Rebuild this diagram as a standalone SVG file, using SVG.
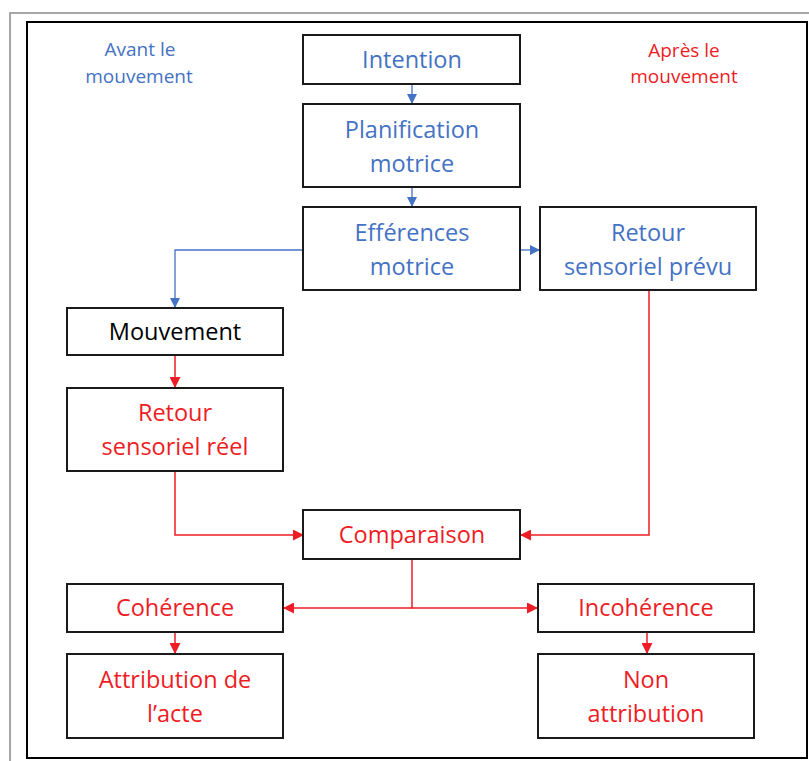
<svg xmlns="http://www.w3.org/2000/svg" width="809" height="761" viewBox="0 0 809 761">
<defs>
<marker id="ab" viewBox="0 0 10 10" refX="10" refY="5" markerWidth="10" markerHeight="10" markerUnits="userSpaceOnUse" orient="auto"><path d="M0,0 L10,5 L0,10 z" fill="#4472C4"/></marker>
<marker id="ar" viewBox="0 0 10 10" refX="10" refY="5" markerWidth="11" markerHeight="11" markerUnits="userSpaceOnUse" orient="auto"><path d="M0,0 L10,5 L0,10 z" fill="#EE1C25"/></marker>
</defs>
<style>
.box{fill:#fff;stroke:#1a1a1a;stroke-width:2}
text{font-family:"Open Sans","Noto Sans","DejaVu Sans",sans-serif;font-size:23.5px;text-anchor:middle}
.b{fill:#4472C4}
.r{fill:#EE1C25}
.k{fill:#000}
.lab{font-size:19px}
.cb{fill:none;stroke:#4472C4;stroke-width:1.3}
.cr{fill:none;stroke:#EE1C25;stroke-width:1.5}
</style>
<rect x="0" y="0" width="809" height="761" fill="#fff"/>
<path d="M10,761 V13 H809" fill="none" stroke="#8a8a8a" stroke-width="1.5"/>
<rect x="27" y="22" width="780" height="736" fill="none" stroke="#000" stroke-width="2"/>
<text class="b lab" x="140" y="56">Avant le</text>
<text class="b lab" x="139" y="83">mouvement</text>
<text class="r lab" x="684" y="57">Après le</text>
<text class="r lab" x="684" y="83">mouvement</text>
<g id="connectors">
<path class="cb" d="M412,84 V104" marker-end="url(#ab)"/>
<path class="cb" d="M412,187 V207" marker-end="url(#ab)"/>
<path class="cb" d="M519,250 H540" marker-end="url(#ab)"/>
<path class="cb" d="M304,250 H175 V308" marker-end="url(#ab)"/>
<path class="cr" d="M175,355 V388" marker-end="url(#ar)"/>
<path class="cr" d="M175,471 V535 H304" marker-end="url(#ar)"/>
<path class="cr" d="M649,290 V535 H520" marker-end="url(#ar)"/>
<path class="cr" d="M412,559 V608 H283" marker-end="url(#ar)"/>
<path class="cr" d="M412,608 H538" marker-end="url(#ar)"/>
<path class="cr" d="M175,632 V654" marker-end="url(#ar)"/>
<path class="cr" d="M647,632 V654" marker-end="url(#ar)"/>
</g>
<g id="intention"><rect class="box" x="303" y="35" width="217" height="49"/><text class="b" x="412" y="68">Intention</text></g>
<g id="planification"><rect class="box" x="303" y="104" width="217" height="83"/><text class="b" x="412" y="138">Planification</text><text class="b" x="412" y="172">motrice</text></g>
<g id="efferences"><rect class="box" x="303" y="207" width="217" height="83"/><text class="b" x="412" y="241">Efférences</text><text class="b" x="412" y="275">motrice</text></g>
<g id="retour-prevu"><rect class="box" x="540" y="207" width="216" height="83"/><text class="b" x="648" y="241">Retour</text><text class="b" x="648" y="275">sensoriel prévu</text></g>
<g id="mouvement"><rect class="box" x="67" y="308" width="216" height="47"/><text class="k" x="175" y="340">Mouvement</text></g>
<g id="retour-reel"><rect class="box" x="67" y="388" width="216" height="83"/><text class="r" x="175" y="421">Retour</text><text class="r" x="175" y="455">sensoriel réel</text></g>
<g id="comparaison"><rect class="box" x="303" y="510" width="217" height="49"/><text class="r" x="412" y="543">Comparaison</text></g>
<g id="coherence"><rect class="box" x="67" y="584" width="216" height="48"/><text class="r" x="175" y="616">Cohérence</text></g>
<g id="incoherence"><rect class="box" x="538" y="584" width="216" height="48"/><text class="r" x="646" y="616">Incohérence</text></g>
<g id="attribution"><rect class="box" x="67" y="654" width="216" height="84"/><text class="r" x="175" y="688">Attribution de</text><text class="r" x="175" y="722">l’acte</text></g>
<g id="non-attribution"><rect class="box" x="538" y="654" width="216" height="84"/><text class="r" x="646" y="688">Non</text><text class="r" x="646" y="722">attribution</text></g>
</svg>
